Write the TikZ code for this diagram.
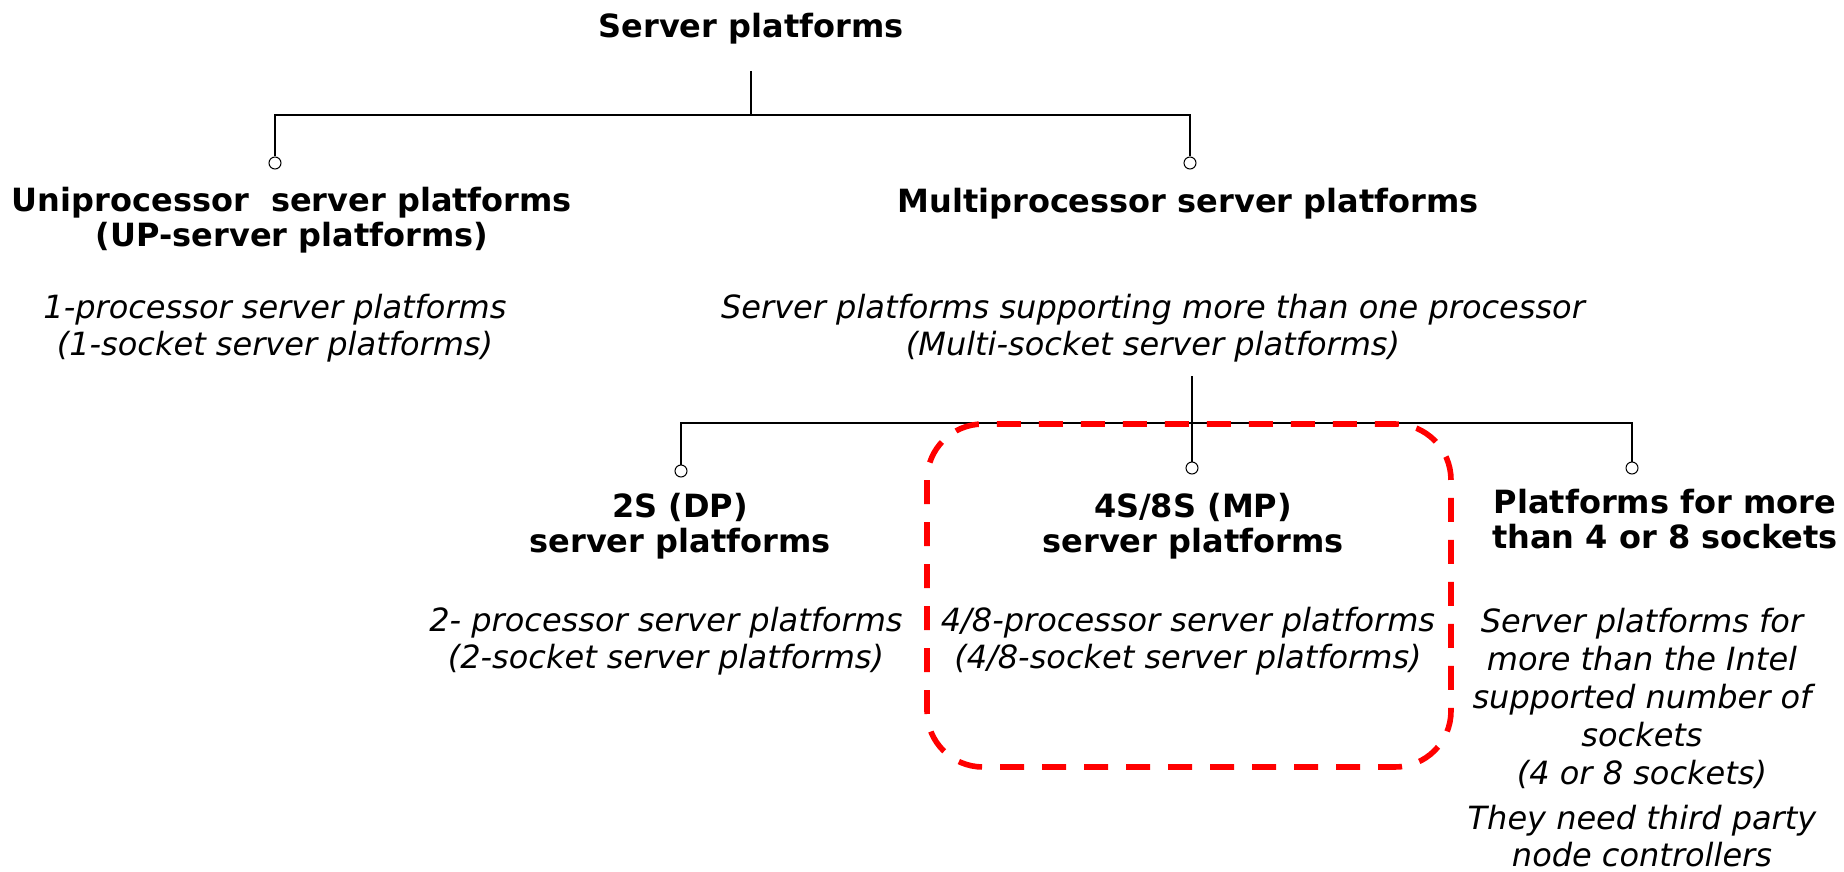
\documentclass[tikz,border=0pt]{standalone}
\usepackage{fontspec}
\setmainfont{DejaVu Sans}
\begin{document}
\begin{tikzpicture}[x=0.5pt,y=-0.5pt,
  head/.style={font=\bfseries\fontsize{16}{17.5}\selectfont,align=center,inner sep=0pt},
  note/.style={font=\itshape\fontsize{16}{18.5}\selectfont,align=center,inner sep=0pt},
  knob/.style={circle,draw,line width=0.5pt,fill=white,inner sep=0pt,minimum size=6pt},
  link/.style={line width=0.8pt},
  hilite/.style={draw=red,line width=2.8pt,dash pattern=on 12pt off 9pt,rounded corners=28pt}]
\useasboundingbox (0,0) rectangle (1844,872);
\node[head] (root) at (751,29) {Server platforms};
\node[head] (up) at (292,220) {Uniprocessor\ \ server platforms\\(UP-server platforms)};
\node[head] (mp) at (1188,204) {Multiprocessor server platforms};
\node[note] (upnote) at (275,328) {1-processor server platforms\\(1-socket server platforms)};
\node[note] (mpnote) at (1153,328) {Server platforms supporting more than one processor\\(Multi-socket server platforms)};
\node[head] (dp) at (680,526) {2S (DP)\\server platforms};
\node[head] (mps) at (1193,526) {4S/8S (MP)\\server platforms};
\node[head] (big) at (1665,519) {Platforms for more\\than 4 or 8 sockets};
\node[note] (dpnote) at (666,641) {2- processor server platforms\\(2-socket server platforms)};
\node[note] (mpsnote) at (1188,641) {4/8-processor server platforms\\(4/8-socket server platforms)};
\node[note,font=\itshape\fontsize{16}{19}\selectfont] (bignote) at (1642,698) {Server platforms for\\more than the Intel\\supported number of\\sockets\\(4 or 8 sockets)};
\node[note] (bigextra) at (1642,836) {They need third party\\node controllers};
\coordinate (stem1) at (751,71);
\coordinate (bar1) at (751,115);
\coordinate (stem2) at (1192,376);
\coordinate (bar2) at (1192,423);
\node[knob] (upc) at (275,163) {};
\node[knob] (mpc) at (1190,163) {};
\node[knob] (dpc) at (681,471) {};
\node[knob] (mpsc) at (1192,468) {};
\node[knob] (bigc) at (1632,468) {};
\draw[link] (stem1) -- (bar1);
\draw[link] (upc.north) |- (bar1) -| (mpc.north);
\draw[link] (dpc.north) |- (bar2) -| (bigc.north);
\draw[hilite] (927,424) rectangle (1451,767);
\draw[link] (stem2) -- (mpsc.north);
\end{tikzpicture}
\end{document}
